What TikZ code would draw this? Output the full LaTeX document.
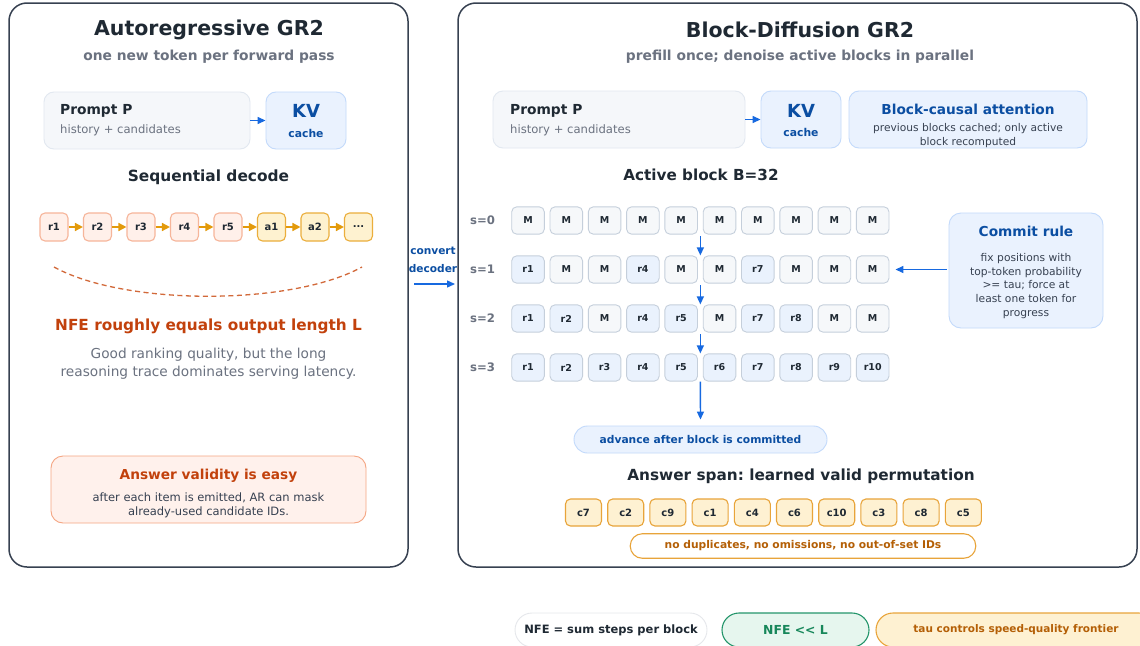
\documentclass[tikz,border=0pt]{standalone}
\usepackage{fontspec}
\setmainfont{DejaVu Sans}[Ligatures=TeXOff]
\usetikzlibrary{arrows.meta,calc}
\definecolor{panelline}{HTML}{374151}
\definecolor{ink}{HTML}{1F2933}
\definecolor{subgray}{HTML}{6B7280}
\definecolor{bodyink}{HTML}{374151}
\definecolor{promptfill}{HTML}{F5F7FA}
\definecolor{promptline}{HTML}{E2E8F0}
\definecolor{kvfill}{HTML}{EAF2FE}
\definecolor{kvline}{HTML}{C3DAFB}
\definecolor{kvtext}{HTML}{0B4EA2}
\definecolor{arrowblue}{HTML}{1769E0}
\definecolor{rfill}{HTML}{FFF0EA}
\definecolor{rline}{HTML}{F6B59A}
\definecolor{afill}{HTML}{FEF2D0}
\definecolor{aline}{HTML}{EBAE3C}
\definecolor{arroworange}{HTML}{E39A0B}
\definecolor{arcred}{HTML}{D2693A}
\definecolor{warnred}{HTML}{C2410C}
\definecolor{easyfill}{HTML}{FFF1EC}
\definecolor{easyline}{HTML}{F5A683}
\definecolor{maskfill}{HTML}{F6F8FA}
\definecolor{cellline}{HTML}{C5CFDB}
\definecolor{knownfill}{HTML}{EAF2FD}
\definecolor{candfill}{HTML}{FEF1D2}
\definecolor{candline}{HTML}{E8A43A}
\definecolor{candtext}{HTML}{B45F06}
\definecolor{neutralline}{HTML}{E5E7EB}
\definecolor{goodfill}{HTML}{E6F6EE}
\definecolor{goodline}{HTML}{23956A}
\definecolor{goodtext}{HTML}{17875A}
\def\maskname{M}
\tikzset{cell/.code={\edef\celltmp{#1}\ifx\celltmp\maskname\tikzset{mask}\else\tikzset{known}\fi}}

\begin{document}
\frenchspacing
\begin{tikzpicture}[x=1pt,y=-1pt]
\tikzstyle{every node}+=[inner sep=0pt]
\tikzstyle{panel}=[draw=panelline, line width=1.5pt, rounded corners=18pt, fill=white]
\tikzstyle{card}=[line width=0.9pt, rounded corners=10pt]
\tikzstyle{tok}=[line width=1.1pt, rounded corners=5pt, minimum width=28pt, minimum height=28pt, font=\fontsize{10}{12}\selectfont\bfseries, text=ink]
\tikzstyle{mask}=[fill=maskfill]
\tikzstyle{known}=[fill=knownfill]
\tikzstyle{gridcell}=[draw=cellline, line width=0.9pt, rounded corners=5pt, minimum width=32.6pt, minimum height=27.3pt, font=\fontsize{9.5}{11}\selectfont\bfseries, text=ink]
\tikzstyle{cand}=[fill=candfill, draw=candline, line width=1.1pt, rounded corners=5pt, minimum width=36pt, minimum height=27pt, font=\fontsize{10}{12}\selectfont\bfseries, text=ink]
\tikzstyle{bluearrow}=[draw=arrowblue, line width=1.4pt, -{Triangle[length=8pt,width=7pt]}]
\tikzstyle{orangearrow}=[draw=arroworange, line width=1.5pt, -{Triangle[length=8pt,width=8pt]}]
\useasboundingbox (0,0) rectangle (1140,645);
\clip (0,0) rectangle (1140,645);
\node[panel, minimum width=399pt, minimum height=564pt] (arpanel) at (208.5,285) {};
\node[panel, minimum width=679pt, minimum height=564pt] (bdpanel) at (797.5,285) {};
\node[font=\fontsize{20.5}{24}\selectfont\bfseries, text=ink] (artitle) at (209,30) {Autoregressive GR2};
\node[font=\fontsize{13.8}{16}\selectfont\bfseries, text=subgray] (arsub) at (209,57) {one new token per forward pass};
\node[card, fill=promptfill, draw=promptline, minimum width=206pt, minimum height=57pt] (arprompt) at (147,120.5) {};
\node[anchor=west, font=\fontsize{13.8}{16}\selectfont\bfseries, text=ink] (arprompttitle) at (60,111) {Prompt P};
\node[anchor=west, font=\fontsize{11.6}{14}\selectfont, text=subgray] (arpromptsub) at (60,130) {history + candidates};
\node[card, fill=kvfill, draw=kvline, minimum width=80pt, minimum height=57pt] (arkv) at (306,120.5) {};
\node[font=\fontsize{18}{20}\selectfont\bfseries, text=kvtext] (arkvtitle) at (306,111) {KV};
\node[font=\fontsize{10.8}{12}\selectfont\bfseries, text=kvtext] (arkvsub) at (306,133) {cache};
\draw[bluearrow] (arprompt.east) -- (arkv.west);
\node[font=\fontsize{15.4}{18}\selectfont\bfseries, text=ink] (seqtitle) at (208.5,177) {Sequential decode};
\node[tok, fill=rfill, draw=rline] (tr1) at (54,227) {r1};
\node[tok, fill=rfill, draw=rline] (tr2) at (97.5,227) {r2};
\node[tok, fill=rfill, draw=rline] (tr3) at (141,227) {r3};
\node[tok, fill=rfill, draw=rline] (tr4) at (184.5,227) {r4};
\node[tok, fill=rfill, draw=rline] (tr5) at (228,227) {r5};
\node[tok, fill=afill, draw=aline] (ta1) at (271.5,227) {a1};
\node[tok, fill=afill, draw=aline] (ta2) at (315,227) {a2};
\node[tok, fill=afill, draw=aline] (tdots) at (358.5,227) {...};
\foreach \a/\b in {tr1/tr2,tr2/tr3,tr3/tr4,tr4/tr5,tr5/ta1,ta1/ta2,ta2/tdots}
  \draw[orangearrow] (\a.east) -- (\b.west);
\draw[arcred, line width=1.3pt, dash pattern=on 5pt off 3.5pt] (54,267) .. controls (125,306) and (291,306) .. (362,267);
\node[font=\fontsize{15.3}{18}\selectfont\bfseries, text=warnred] (nfeline) at (208.5,326) {NFE roughly equals output length L};
\node[align=center, font=\fontsize{13.7}{18}\selectfont, text=subgray] (arnote) at (208.5,364) {Good ranking quality, but the long\\reasoning trace dominates serving latency.};
\node[card, rounded corners=12pt, fill=easyfill, draw=easyline, minimum width=315pt, minimum height=67pt] (easy) at (208.5,489.5) {};
\node[font=\fontsize{13.7}{16}\selectfont\bfseries, text=warnred] (easytitle) at (208.5,476) {Answer validity is easy};
\node[align=center, font=\fontsize{11.5}{14}\selectfont, text=bodyink] (easybody) at (208.5,505) {after each item is emitted, AR can mask\\already-used candidate IDs.};
\node[align=center, font=\fontsize{10.6}{18}\selectfont\bfseries, text=kvtext] (convert) at (433,260) {convert\\decoder};
\coordinate (convtail) at (414,284);
\coordinate (convhead) at (455,284);
\draw[bluearrow] (convtail) -- (convhead);
\node[font=\fontsize{20.5}{24}\selectfont\bfseries, text=ink] (bdtitle) at (800,30) {Block-Diffusion GR2};
\node[font=\fontsize{13.8}{16}\selectfont\bfseries, text=subgray] (bdsub) at (800,57) {prefill once; denoise active blocks in parallel};
\node[card, fill=promptfill, draw=promptline, minimum width=252pt, minimum height=57pt] (bdprompt) at (619,119.5) {};
\node[anchor=west, font=\fontsize{13.8}{16}\selectfont\bfseries, text=ink] (bdprompttitle) at (510,111) {Prompt P};
\node[anchor=west, font=\fontsize{11.6}{14}\selectfont, text=subgray] (bdpromptsub) at (510,130) {history + candidates};
\node[card, fill=kvfill, draw=kvline, minimum width=80pt, minimum height=57pt] (bdkv) at (801,119.5) {};
\node[font=\fontsize{18}{20}\selectfont\bfseries, text=kvtext] (bdkvtitle) at (801,111) {KV};
\node[font=\fontsize{10.8}{12}\selectfont\bfseries, text=kvtext] (bdkvsub) at (801,132) {cache};
\draw[bluearrow] (bdprompt.east) -- (bdkv.west);
\node[card, fill=kvfill, draw=kvline, minimum width=238pt, minimum height=57pt] (attn) at (968,119.5) {};
\node[font=\fontsize{13.7}{16}\selectfont\bfseries, text=kvtext] (attntitle) at (968,109) {Block-causal attention};
\node[align=center, font=\fontsize{10.65}{13.5}\selectfont, text=bodyink] (attnbody) at (968,135.5) {previous blocks cached; only active\\block recomputed};
\node[font=\fontsize{15.2}{18}\selectfont\bfseries, text=ink] (blocktitle) at (701,175) {Active block B=32};
\foreach \row/\cells in {0/{M,M,M,M,M,M,M,M,M,M},1/{r1,M,M,r4,M,M,r7,M,M,M},2/{r1,r2,M,r4,r5,M,r7,r8,M,M},3/{r1,r2,r3,r4,r5,r6,r7,r8,r9,r10}} {
  \node[font=\fontsize{11.7}{14}\selectfont\bfseries, text=subgray] (s\row) at (482.5,{220.5+49*\row}) {s=\row};
  \foreach \lbl [count=\i] in \cells
    \node[gridcell, cell=\lbl] (g\row-\i) at ({528+38.3*(\i-1)},{220.5+49*\row}) {\lbl};
}
\foreach \a/\b in {0/1,1/2,2/3}
  \draw[bluearrow, shorten <=1.5pt] ($(g\a-5.south east)!.5!(g\a-6.south west)$) -- ($(g\b-5.north east)!.5!(g\b-6.north west)$);
\node[card, rounded corners=12pt, fill=kvfill, draw=kvline, minimum width=154pt, minimum height=115pt] (commit) at (1026,270.5) {};
\node[font=\fontsize{13.7}{16}\selectfont\bfseries, text=kvtext] (committitle) at (1026,231) {Commit rule};
\node[align=center, font=\fontsize{10.7}{13.75}\selectfont, text=bodyink] (commitbody) at (1026,286) {fix positions with\\top-token probability\\>= tau; force at\\least one token for\\progress};
\draw[bluearrow, shorten >=6pt, shorten <=2pt] (g1-10.east -| commit.west) -- (g1-10.east);
\node[card, rounded corners=13.5pt, fill=kvfill, draw=kvline, minimum width=253pt, minimum height=27pt, font=\fontsize{10.7}{12}\selectfont\bfseries, text=kvtext] (advance) at (700.5,439.5) {advance after block is committed};
\draw[bluearrow, shorten >=6pt] ($(g3-5.south east)!.5!(g3-6.south west)$) -- (advance.north);
\node[font=\fontsize{15.3}{18}\selectfont\bfseries, text=ink] (spantitle) at (801,476) {Answer span: learned valid permutation};
\foreach \lbl [count=\i] in {c7,c2,c9,c1,c4,c6,c10,c3,c8,c5}
  \node[cand] (c\i) at ({583.5+42.2*(\i-1)},512.5) {\lbl};
\node[card, rounded corners=12pt, fill=white, draw=candline, line width=1.1pt, minimum width=345.5pt, minimum height=24.5pt, font=\fontsize{10.7}{12}\selectfont\bfseries, text=candtext] (validpill) at (803,546) {no duplicates, no omissions, no out-of-set IDs};
\node[card, rounded corners=17pt, fill=white, draw=neutralline, minimum width=192pt, minimum height=34pt, font=\fontsize{11.5}{13}\selectfont\bfseries, text=ink] (nfesum) at (611,630) {NFE = sum steps per block};
\node[card, rounded corners=17pt, fill=goodfill, draw=goodline, line width=1.1pt, minimum width=147pt, minimum height=34pt, font=\fontsize{12.4}{14}\selectfont\bfseries, text=goodtext] (nfeless) at (795.5,630) {NFE << L};
\node[card, rounded corners=17pt, fill=candfill, draw=candline, line width=1.1pt, minimum width=280pt, minimum height=34pt, font=\fontsize{10.5}{12}\selectfont\bfseries, text=candtext] (taupill) at (1016,630) {tau controls speed-quality frontier};
\end{tikzpicture}
\end{document}
